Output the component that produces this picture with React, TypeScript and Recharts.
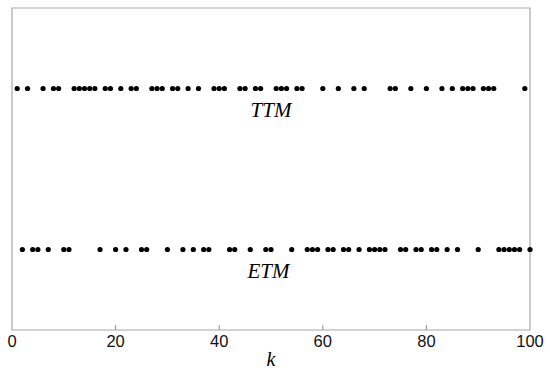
import { ReferenceArea, ReferenceDot, Scatter, ScatterChart, XAxis, YAxis } from 'recharts';

// instants k at which each scheme fires
const ttmK = [
  1, 3, 6, 8, 9, 12, 13, 14, 15, 16, 18, 19, 21, 23, 24, 27, 28, 29, 31, 32, 34, 36, 39, 40, 41, 44, 45, 47, 48,
  51, 52, 53, 55, 56, 60, 63, 66, 68, 73, 74, 77, 80, 83, 85, 87, 88, 89, 91, 92, 93, 99,
];
const etmK = [
  2, 4, 5, 7, 10, 11, 17, 20, 22, 25, 26, 30, 33, 35, 37, 38, 42, 43, 46, 49, 50, 54, 57, 58, 59, 61, 62, 64, 65,
  67, 69, 70, 71, 72, 75, 76, 78, 79, 81, 82, 84, 86, 90, 94, 95, 96, 97, 98, 100,
];
const xTicks = [0, 20, 40, 60, 80, 100];
const ttmLevel = 0.75;
const etmLevel = 0.25;

const ttmData = ttmK.map((k) => ({ k, y: ttmLevel }));
const etmData = etmK.map((k) => ({ k, y: etmLevel }));

const frame = '#a8a8a8';
const italicSerif = { fontFamily: '"Liberation Serif", serif', fontStyle: 'italic', fontSize: 21, fill: '#000' };

const Dot = (p: any) => <circle cx={p.cx} cy={p.cy} r={2.6} fill="#000" />;

// tick mark points into the plot, label sits below the frame
const renderTick = ({ x, y, payload }: any) => (
  <g key={`t-${payload.value}`}>
    {payload.value !== 0 && payload.value !== 100 && (
      <line x1={x} x2={x} y1={y} y2={y - 5} stroke="#909090" strokeWidth={1} />
    )}
    <text
      x={x}
      y={y + 17}
      textAnchor="middle"
      fontSize={16.5}
      fill="#111"
      fontFamily='"Liberation Sans", Arial, sans-serif'
    >
      {payload.value}
    </text>
  </g>
);

export default function App() {
  return (
    <div style={{ position: 'absolute', left: 0, top: 0 }}>
      <ScatterChart width={550} height={374} margin={{ top: 8, right: 20, left: 12, bottom: 0 }}>
        <XAxis
          type="number"
          dataKey="k"
          domain={[0, 100]}
          ticks={xTicks}
          height={44}
          axisLine={false}
          tickLine={false}
          tickSize={0}
          tickMargin={0}
          tick={renderTick}
          label={{ value: 'k', position: 'insideBottom', offset: 8, style: { ...italicSerif, fontSize: 20 } }}
        />
        <YAxis type="number" dataKey="y" domain={[0, 1]} hide />
        <ReferenceArea x1={0} x2={100} y1={0} y2={1} fill="none" stroke={frame} strokeWidth={1.2} />
        <Scatter data={ttmData} shape={<Dot />} isAnimationActive={false} />
        <Scatter data={etmData} shape={<Dot />} isAnimationActive={false} />
        <ReferenceDot
          x={50}
          y={0.685}
          r={0}
          fill="none"
          stroke="none"
          label={{ value: 'TTM', position: 'center', style: italicSerif }}
        />
        <ReferenceDot
          x={49.5}
          y={0.186}
          r={0}
          fill="none"
          stroke="none"
          label={{ value: 'ETM', position: 'center', style: italicSerif }}
        />
      </ScatterChart>
    </div>
  );
}
